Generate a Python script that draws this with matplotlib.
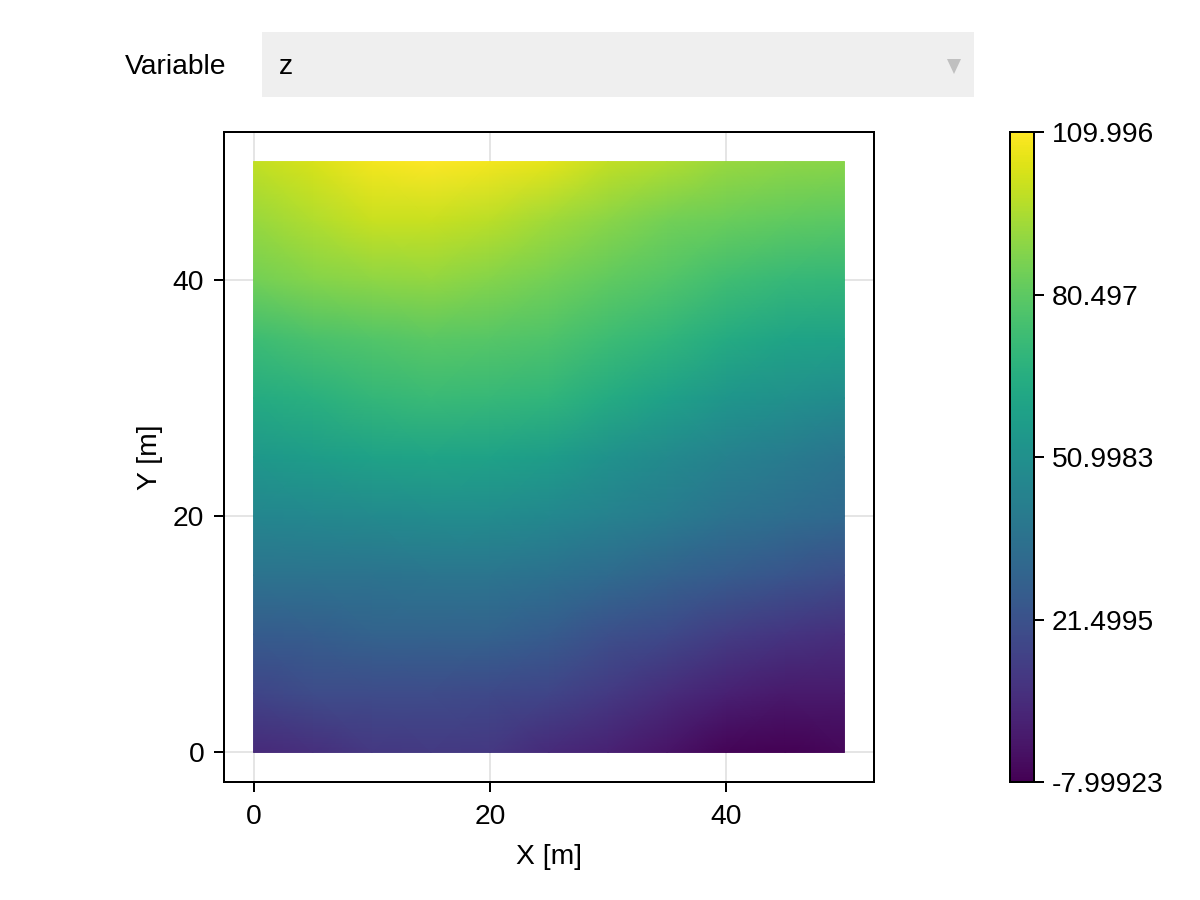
import numpy as np
import matplotlib
matplotlib.use("Agg")
import matplotlib.pyplot as plt
from matplotlib.patches import Rectangle, Polygon

plt.rcParams["font.family"] = ["Liberation Sans", "DejaVu Sans"]
plt.rcParams["font.size"] = 20.3

W = 1200
H = 900

x = [0, 5, 10, 15, 20, 25, 30, 35, 40, 45, 50]
y = [0, 5, 10, 15, 20, 25, 30, 35, 40, 45, 50]

# valores, de y=0 (primeira linha) ate y=50
z = [
    [6, 8, 11, 12, 11, 6, 3, -2, -7, -8, -6],
    [16, 19, 19, 19, 18, 16, 12, 7, 3, 0, 0],
    [26, 27, 29, 29, 29, 26, 21, 18, 13, 10, 8],
    [37, 37, 37, 38, 38, 36, 33, 29, 26, 23, 20],
    [46, 47, 48, 49, 49, 47, 44, 41, 37, 34, 32],
    [55, 57, 60, 61, 60, 57, 52, 48, 44, 41, 38],
    [64, 67, 70, 72, 71, 69, 64, 59, 54, 51, 49],
    [73, 76, 78, 80, 79, 77, 73, 69, 64, 61, 60],
    [85, 88, 90, 91, 88, 85, 81, 78, 74, 71, 70],
    [92, 96, 100, 100, 98, 93, 89, 85, 83, 81, 80],
    [99, 103, 108, 110, 108, 105, 99, 96, 92, 90, 89],
]

xticks = [0, 20, 40]
yticks = [0, 20, 40]
cbar_ticks = [-7.99923, 21.4995, 50.9983, 80.497, 109.996]
cbar_labels = ["-7.99923", "21.4995", "50.9983", "80.497", "109.996"]


def caixa(esq, topo, dir, base):
    return [esq / W, 1 - base / H, (dir - esq) / W, (base - topo) / H]


fig = plt.figure(figsize=(12, 9), dpi=100)

ax = fig.add_axes(caixa(224, 132, 874, 782))
mesh = ax.pcolormesh(x, y, z, cmap="viridis", shading="gouraud",
                     vmin=-7.99923, vmax=109.996, zorder=2)
ax.set_xlim(-2.5, 52.5)
ax.set_ylim(-2.5, 52.5)
ax.set_xticks(xticks)
ax.set_yticks(yticks)
ax.set_xlabel("X [m]", labelpad=9.5)
ax.set_ylabel("Y [m]", labelpad=7)
ax.grid(True, color="black", alpha=0.1, lw=1.44, zorder=1)
ax.set_axisbelow(True)
ax.tick_params(axis="x", length=7.2, width=1.44, pad=9)
ax.tick_params(axis="y", length=7.2, width=1.44, pad=7)
for s in ax.spines.values():
    s.set_linewidth(1.44)

cax = fig.add_axes(caixa(1010, 132, 1034, 782))
cbar = fig.colorbar(mesh, cax=cax)
cbar.set_ticks(cbar_ticks, labels=cbar_labels)
cbar.ax.tick_params(length=7.2, width=1.44, pad=5.5)
cbar.outline.set_linewidth(1.44)

# caixa do menu "Variable"
fig.add_artist(Rectangle((262 / W, 1 - 97 / H), 712 / W, 65 / H,
                         transform=fig.transFigure, color="#efefef", lw=0))
fig.add_artist(Polygon([(947 / W, 1 - 59 / H), (961 / W, 1 - 59 / H), (954 / W, 1 - 74 / H)],
                       transform=fig.transFigure, color="#c0c0c0", lw=0))
fig.text(226.5 / W, 1 - 64 / H, "Variable", ha="right", va="center_baseline")
fig.text(279 / W, 1 - 64 / H, "z", ha="left", va="center_baseline")

fig.savefig("out.png", dpi=100)
plt.close(fig)
